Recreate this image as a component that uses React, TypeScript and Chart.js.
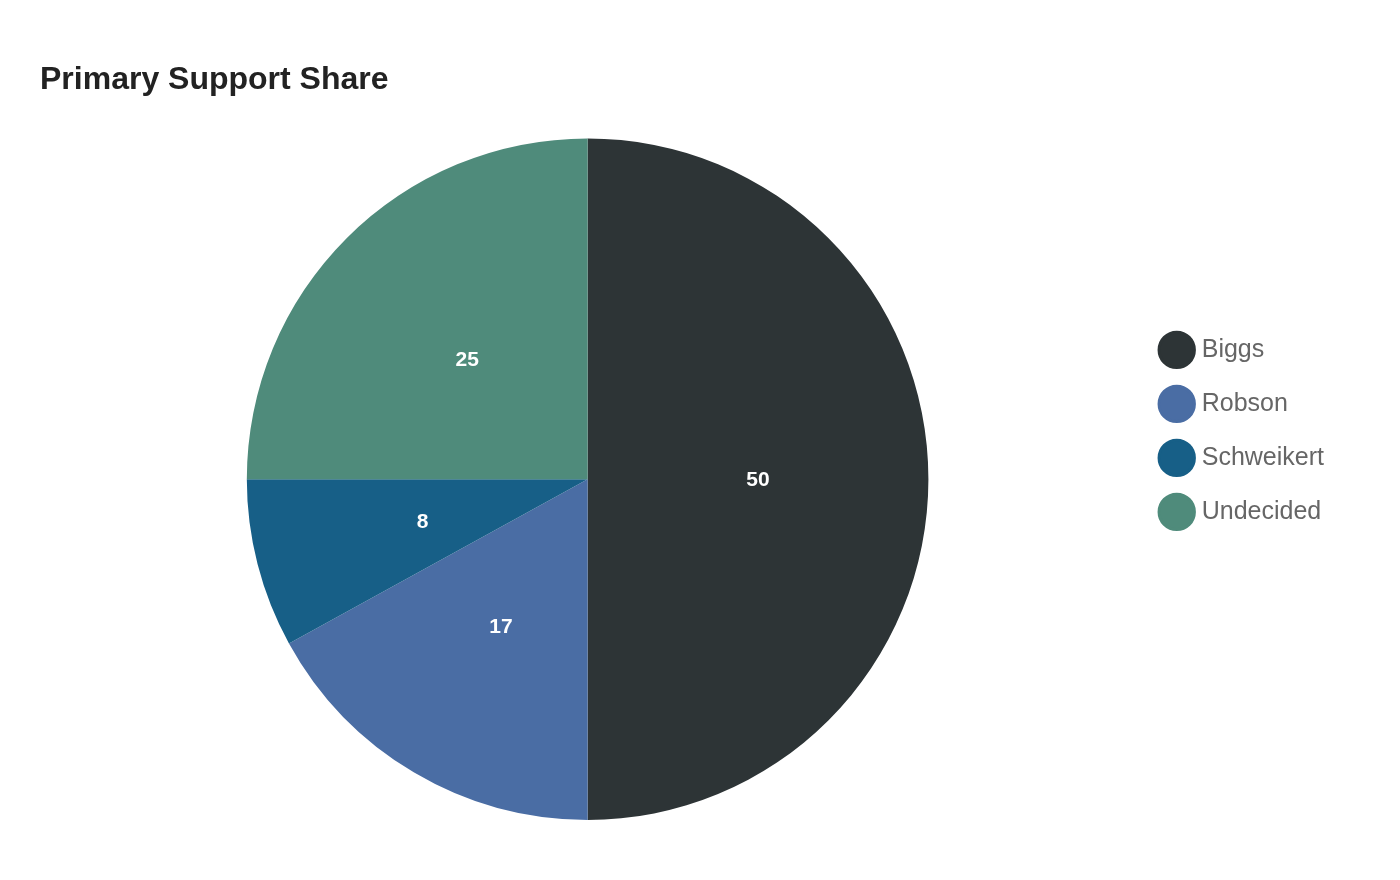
import React, { useEffect, useRef } from 'react';
import { Chart, registerables } from 'chart.js';

Chart.register(...registerables);

const candidates = ['Biggs', 'Robson', 'Schweikert', 'Undecided'];
const shares = [50, 17, 8, 25];
const sliceColors = ['#2d3436', '#4a6da4', '#175f87', '#4f8b7b'];

const FONT = "'Liberation Sans', Arial, Helvetica, sans-serif";

// draws the value in the middle of each slice
const sliceLabels = {
  id: 'sliceLabels',
  afterDatasetsDraw(chart: any) {
    const { ctx } = chart;
    const meta = chart.getDatasetMeta(0);
    ctx.save();
    ctx.fillStyle = '#ffffff';
    ctx.font = `bold 21px ${FONT}`;
    ctx.textAlign = 'center';
    ctx.textBaseline = 'middle';
    meta.data.forEach((arc: any, i: number) => {
      const pos = arc.tooltipPosition();
      ctx.fillText(String(chart.data.datasets[0].data[i]), pos.x, pos.y + 1);
    });
    ctx.restore();
  },
};

const PieChart: React.FC = () => {
  const chartRef = useRef<HTMLCanvasElement>(null);
  const chartInstance = useRef<Chart | null>(null);

  useEffect(() => {
    if (!chartRef.current) return;
    const ctx = chartRef.current.getContext('2d');
    if (!ctx) return;

    if (chartInstance.current) {
      chartInstance.current.destroy();
    }

    Chart.defaults.font.family = FONT;

    chartInstance.current = new Chart(ctx, {
      type: 'pie',
      data: {
        labels: candidates,
        datasets: [
          {
            data: shares,
            backgroundColor: sliceColors,
            borderWidth: 0,
          },
        ],
      },
      options: {
        responsive: true,
        maintainAspectRatio: false,
        animation: false,
        layout: {
          padding: { top: 20, bottom: 60, left: 40, right: 66 },
        },
        plugins: {
          title: {
            display: true,
            text: 'Primary Support Share',
            align: 'start',
            color: '#222222',
            font: { size: 32, weight: 'bold', family: FONT },
            padding: { top: 41, bottom: 39 },
          },
          legend: {
            position: 'right',
            align: 'start',
            title: {
              display: true,
              text: '',
              padding: { top: 0, bottom: 274 },
            },
            labels: {
              usePointStyle: true,
              pointStyle: 'circle',
              padding: 29,
              color: '#666666',
              font: { size: 25, family: FONT },
              generateLabels: (chart: any) => {
                const items = Chart.overrides.pie.plugins.legend.labels.generateLabels(chart);
                return items.map((item: any) => ({
                  ...item,
                  lineWidth: 3,
                  strokeStyle: item.fillStyle,
                }));
              },
            },
          },
          tooltip: { enabled: false },
        },
      },
      plugins: [sliceLabels],
    });

    return () => {
      if (chartInstance.current) {
        chartInstance.current.destroy();
        chartInstance.current = null;
      }
    };
  }, []);

  return (
    <div style={{ position: 'absolute', left: 0, top: 0, width: 1400, height: 880 }}>
      <canvas ref={chartRef} />
    </div>
  );
};

const App: React.FC = () => <PieChart />;

export default App;
